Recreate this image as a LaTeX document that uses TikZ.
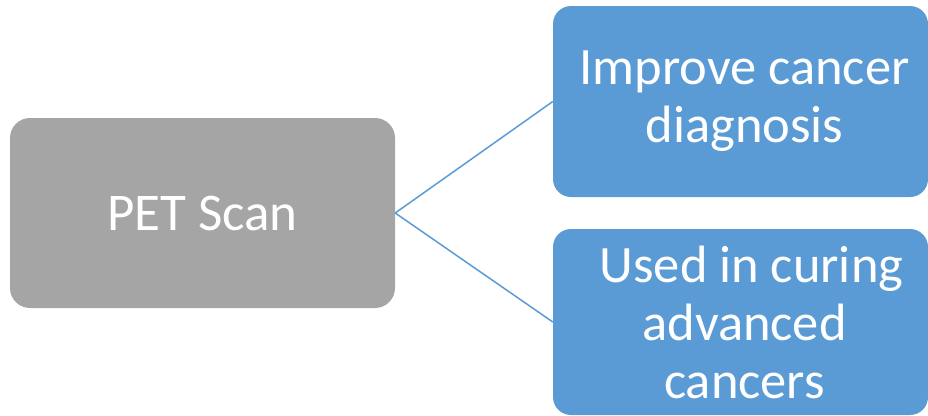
\documentclass[tikz,border=0pt]{standalone}
\usepackage{fontspec}
\setmainfont{Carlito}
\usepackage{tikz}
\definecolor{petgray}{HTML}{A5A5A5}
\definecolor{petblue}{HTML}{5B9BD5}
\tikzset{
  root/.style={fill=petgray, rounded corners=20pt, text=white, align=center,
    minimum width=385pt, minimum height=190pt, inner sep=0pt,
    font=\fontsize{53}{60}\selectfont},
  leaf/.style={fill=petblue, rounded corners=18pt, text=white, align=center,
    minimum width=375pt, inner sep=0pt,
    font=\fontsize{52.5}{58}\selectfont},
  link/.style={draw=petblue, line width=1.5pt}
}

\begin{document}
\begin{tikzpicture}[x=1pt,y=1pt]
      \useasboundingbox (0,0) rectangle (928,-415);
      % Nodes
      \node[root] (P) at (202.5,-213) {PET Scan};
      \node[leaf, minimum height=191pt] (L1) at (740.5,-101.5) {\hspace{8pt}Improve cancer\\\hspace{8pt}diagnosis};
      \node[leaf, minimum height=186pt] (L2) at (740.5,-322) {\hspace{22pt}Used in curing\\\hspace{8pt}advanced\\\hspace{8pt}cancers};
      % connectors
      \draw[link] (P.east) -- (L1.west);
      \draw[link] (P.east) -- (L2.west);

    \end{tikzpicture}
\end{document}
